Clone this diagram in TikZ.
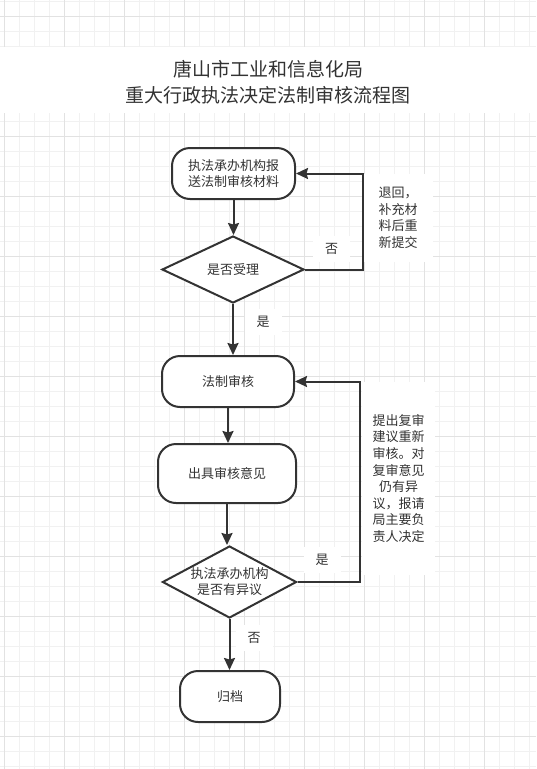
\documentclass[tikz,border=0pt]{standalone}
\usepackage{fontspec}
\newfontfamily\cjk{Noto Sans CJK SC}
\usetikzlibrary{shapes.geometric,arrows.meta}
\definecolor{ink}{HTML}{333333}
\definecolor{minorg}{HTML}{F1F1F1}
\definecolor{majorg}{HTML}{E2E2E2}
\tikzset{
  minorgrid/.style={draw=minorg,line width=1pt},
  majorgrid/.style={draw=majorg,line width=1pt},
  rbox/.style={draw=ink,line width=2pt,fill=white,rounded corners=18pt,inner sep=0pt,
    font=\cjk\fontsize{13}{16}\selectfont,text=ink,align=center},
  dbox/.style={draw=ink,line width=2pt,fill=white,diamond,aspect=2,inner sep=0pt,
    font=\cjk\fontsize{13}{16}\selectfont,text=ink,align=center},
  arr/.style={draw=ink,line width=2pt,-{Stealth[inset=1.5pt,length=12pt,width=11pt]}},
  lbl/.style={fill=white,inner sep=0pt,minimum width=37pt,minimum height=26pt,
    font=\cjk\fontsize{13}{16}\selectfont,text=ink},
  note/.style={fill=white,inner sep=0pt,font=\cjk\fontsize{13}{16.6}\selectfont,text=ink,align=center}
}
\begin{document}
\begin{tikzpicture}[x=1pt,y=-1pt]
\useasboundingbox (0,0) rectangle (536,769);
% grid
\foreach \x in {4,19,...,536} \draw[minorgrid] (\x,0) -- (\x,769);
\foreach \y in {1.7,16.7,...,769} \draw[minorgrid] (0,\y) -- (536,\y);
\foreach \x in {4,64,...,536} \draw[majorgrid] (\x,0) -- (\x,769);
\foreach \y in {16.7,76.7,...,769} \draw[majorgrid] (0,\y) -- (536,\y);
% title band
\fill[white] (0,47) rectangle (536,113);
\node[font=\cjk\fontsize{19}{26}\selectfont,text=ink,align=center] (title) at (268,82)
  {唐山市工业和信息化局\\重大行政执法决定法制审核流程图};
% notes
\node[note,minimum width=70pt,minimum height=88pt] (n1) at (398,218)
  {退回，\\补充材\\料后重\\新提交};
\node[note,minimum width=73pt,minimum height=193pt] (n2) at (398.5,478.5)
  {提出复审\\建议重新\\审核。对\\复审意见\\仍有异\\议，报请\\局主要负\\责人决定};
% shapes
\node[rbox,minimum width=123pt,minimum height=51pt] (b1) at (233.5,173.5)
  {执法承办机构报\\送法制审核材料};
\node[dbox,minimum width=142pt,minimum height=67pt] (d1) at (233,269.5) {是否受理};
\node[rbox,minimum width=132pt,minimum height=51pt] (b2) at (228,381.5) {法制审核};
\node[rbox,minimum width=138pt,minimum height=59pt] (b3) at (227,473.5) {出具审核意见};
\node[dbox,minimum width=133pt,minimum height=72pt] (d2) at (229.5,582)
  {执法承办机构\\是否有异议};
\node[rbox,minimum width=100pt,minimum height=51pt] (b4) at (230,696.5) {归档};
% labels
\node[lbl] (l1) at (331.5,248.5) {否};
\node[lbl] (l2) at (263,322) {是};
\node[lbl] (l3) at (322,560) {是};
\node[lbl] (l4) at (254,638) {否};
% connectors
\draw[arr] (b1.south) -- (b1.south |- d1.north);
\draw[arr] (d1.south) -- (d1.south |- b2.north);
\draw[arr] (d1.east) -- ++(58,0) |- (b1.east);
\draw[arr] (b2.south) -- (b2.south |- b3.north);
\draw[arr] (b3.south) -- (b3.south |- d2.north);
\draw[arr] (d2.east) -- ++(62,0) |- (b2.east);
\draw[arr] (d2.south) -- (d2.south |- b4.north);
\end{tikzpicture}
\end{document}
